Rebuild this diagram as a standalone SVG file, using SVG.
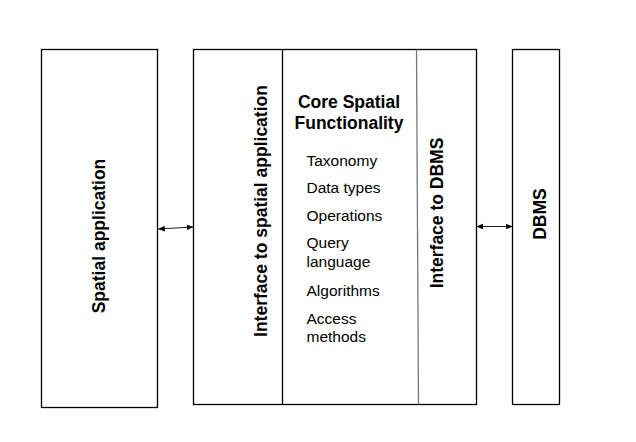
<svg xmlns="http://www.w3.org/2000/svg" width="636" height="442" viewBox="0 0 636 442">
<defs>
<style>
.box{fill:#fff;stroke:#000;stroke-width:1.3}
.lbl{font-family:"Liberation Sans",Arial,sans-serif;font-weight:bold;font-size:17.5px;fill:#000;text-anchor:middle}
.item{font-family:"Liberation Sans",Arial,sans-serif;font-size:15.5px;fill:#000}
.conn{stroke:#222;stroke-width:1.2;fill:none}
</style>
<marker id="ah" viewBox="0 0 10 10" refX="9" refY="5" markerWidth="7" markerHeight="7" orient="auto-start-reverse" markerUnits="userSpaceOnUse">
<path d="M0,1 L10,5 L0,9 z" fill="#000"/>
</marker>
</defs>
<rect width="636" height="442" fill="#fff"/>
<g id="spatial-application">
<rect class="box" x="41.5" y="49.5" width="116" height="358"/>
<text class="lbl" transform="translate(105,236) rotate(-90)">Spatial application</text>
</g>
<g id="middleware">
<rect class="box" x="193.5" y="49.5" width="283" height="355"/>
<line x1="282.5" y1="49.5" x2="282.5" y2="404.5" stroke="#000" stroke-width="1.3"/>
<line x1="416.5" y1="49.5" x2="418.5" y2="404.5" stroke="#777" stroke-width="1.3"/>
</g>
<g id="interface-spatial">
<text class="lbl" transform="translate(267,211) rotate(-90)">Interface to spatial application</text>
</g>
<g id="core">
<text class="lbl" x="349" y="108">Core Spatial</text>
<text class="lbl" x="349" y="129">Functionality</text>
<text class="item" x="306.5" y="165.5">Taxonomy</text>
<text class="item" x="306.5" y="193">Data types</text>
<text class="item" x="306.5" y="220.5">Operations</text>
<text class="item" x="306.5" y="248">Query</text>
<text class="item" x="306.5" y="267">language</text>
<text class="item" x="306.5" y="295.5">Algorithms</text>
<text class="item" x="306.5" y="323.5">Access</text>
<text class="item" x="306.5" y="342">methods</text>
</g>
<g id="interface-dbms">
<text class="lbl" transform="translate(443,213) rotate(-90)">Interface to DBMS</text>
</g>
<g id="dbms">
<rect class="box" x="512.5" y="49.5" width="47" height="355"/>
<text class="lbl" transform="translate(546,214) rotate(-90)">DBMS</text>
</g>
<g id="connectors">
<line class="conn" x1="158.5" y1="229" x2="193" y2="227" marker-start="url(#ah)" marker-end="url(#ah)"/>
<line class="conn" x1="477" y1="226.5" x2="512" y2="226.5" marker-start="url(#ah)" marker-end="url(#ah)"/>
</g>
</svg>
